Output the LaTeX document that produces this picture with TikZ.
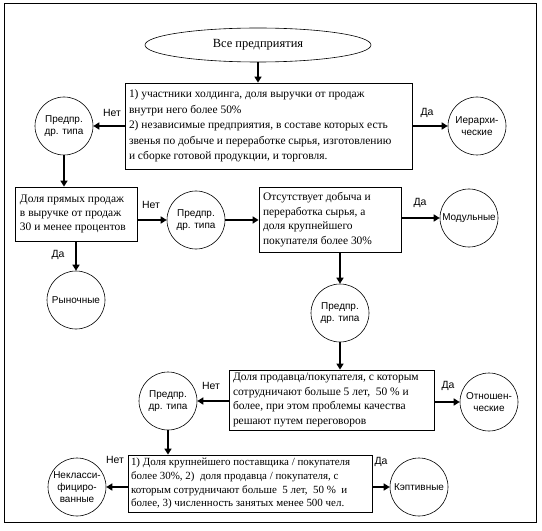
\documentclass[tikz,border=0pt]{standalone}
\usepackage{fontspec}
\setmainfont{Liberation Serif}
\newfontfamily\arialf{Liberation Sans}
\usetikzlibrary{shapes.geometric,arrows.meta}
\begin{document}
\begin{tikzpicture}[x=1bp,y=-1bp,
  circ/.style={draw,circle,line width=0.6bp,minimum size=58bp,inner sep=0pt,font=\arialf\fontsize{10}{12}\selectfont,align=center},
  box/.style={draw,rectangle,line width=0.8bp,inner sep=0pt,font=\fontsize{11.5}{15.5}\selectfont,align=left,anchor=center},
  lbl/.style={font=\arialf\fontsize{10.5}{12}\selectfont,inner sep=0pt},
  arr/.style={line width=2.2bp,-{Triangle[length=6bp,width=7bp]}}]
\useasboundingbox (0,0) rectangle (542,531);
\draw[line width=0.6bp] (4,3) rectangle (536,522);
% nodes
\node[draw,ellipse,line width=0.6bp,minimum width=226bp,minimum height=34bp,inner sep=0pt,font=\fontsize{12.5}{14}\selectfont] (top) at (258,45) {Все предприятия};
\node[box,minimum width=287bp,minimum height=86bp] (b1) at (268.5,126) {\parbox[c][86bp][c]{279bp}{1) участники холдинга, доля выручки от продаж\\внутри него более 50\%\\2) независимые предприятия, в составе которых есть\\звенья по добыче и переработке сырья, изготовлению\\и сборке готовой продукции, и торговля.}};
\node[circ] (cL) at (64,126) {Предпр.\\др. типа};
\node[circ] (cH) at (477,126) {Иерархи-\\ческие};
\node[box,minimum width=122bp,minimum height=54bp] (b2) at (76,214) {\parbox[c][54bp][c]{112bp}{\fontsize{11.5}{14.5}\selectfont Доля прямых продаж\\в выручке от продаж\\30 и менее процентов}};
\node[circ] (c2) at (196,220) {Предпр.\\др. типа};
\node[box,minimum width=142bp,minimum height=65bp] (b3) at (330,219.5) {\parbox[c][65bp][c]{134bp}{\fontsize{11.5}{14.5}\selectfont Отсутствует добыча и\\переработка сырья, а\\доля крупнейшего\\покупателя более 30\%}};
\node[circ] (cM) at (469,218) {Модульные};
\node[circ] (cR) at (76,300) {Рыночные};
\node[circ] (c3) at (340,313) {Предпр.\\др. типа};
\node[box,minimum width=205bp,minimum height=60bp] (b4) at (331.5,400) {\parbox[c][60bp][c]{197bp}{\fontsize{11.5}{14.5}\selectfont Доля продавца/покупателя, с которым\\сотрудничают больше 5 лет,\ \ 50 \% и\\более, при этом проблемы качества\\решают путем переговоров}};
\node[circ] (c4) at (168,401) {Предпр.\\др. типа};
\node[circ] (cO) at (489,402) {Отношен-\\ческие};
\node[box,minimum width=244bp,minimum height=57bp] (b5) at (250,483.5) {\parbox[c][57bp][c]{238bp}{\fontsize{11}{13.8}\selectfont 1) Доля крупнейшего поставщика / покупателя\\более 30\%, 2)\ \ доля продавца / покупателя, с\\которым сотрудничают больше\ \ 5 лет,\ \ 50 \%\ \ и\\более, 3) численность занятых менее 500 чел.}};
\node[circ] (cN) at (77,487) {Некласси-\\фициро-\\ванные};
\node[circ] (cK) at (419,487) {Кэптивные};
% connectors
\draw[arr] (top.south) -- (top.south |- b1.north);
\draw[arr] (b1.west |- cL) -- (cL);
\draw[arr] (b1.east |- cH) -- (cH);
\draw[arr] (cL.south) -- (cL.south |- b2.north);
\draw[arr] (b2.east |- c2) -- (c2);
\draw[arr] (c2) -- (c2 -| b3.west);
\draw[arr] (b3.east |- cM) -- (cM);
\draw[arr] (b2.south -| cR) -- (cR);
\draw[arr] (b3.south -| c3) -- (c3);
\draw[arr] (c3.south) -- (c3.south |- b4.north);
\draw[arr] (b4.west |- c4) -- (c4);
\draw[arr] (b4.east |- cO) -- (cO);
\draw[arr] (c4.south) -- (c4.south |- b5.north);
\draw[arr] (b5.west |- cN) -- (cN);
\draw[arr] (b5.east |- cK) -- (cK);
% labels
\node[lbl] (l1) at (112,113) {Нет};
\node[lbl] (l2) at (427,113) {Да};
\node[lbl] (l3) at (151,205) {Нет};
\node[lbl] (l4) at (420,203) {Да};
\node[lbl] (l5) at (58,255) {Да};
\node[lbl] (l6) at (211,386) {Нет};
\node[lbl] (l7) at (448,386) {Да};
\node[lbl] (l8) at (115,460) {Нет};
\node[lbl] (l9) at (381,462) {Да};
\end{tikzpicture}
\end{document}
